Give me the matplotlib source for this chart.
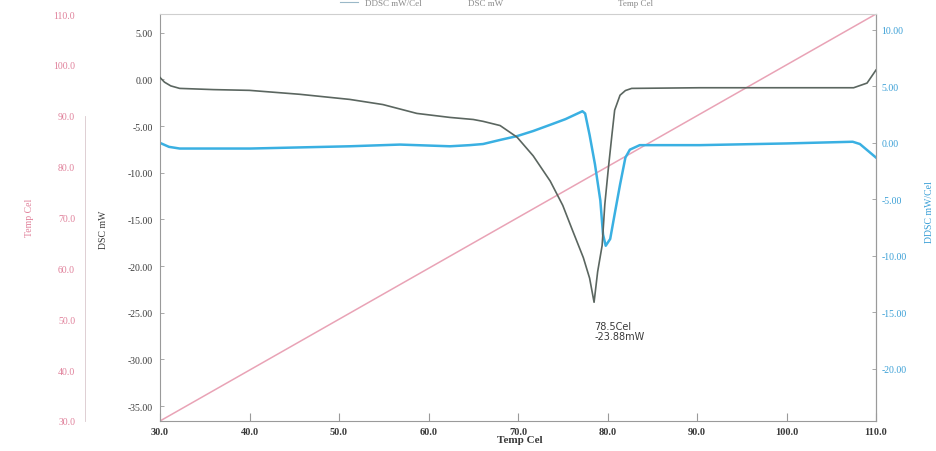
import matplotlib
matplotlib.use("Agg")
import matplotlib.pyplot as plt
from matplotlib.ticker import FixedLocator, FormatStrFormatter

# ---- data ----
dsc_temp = [30.0, 30.5, 31.2, 32.2, 36.0, 40.0, 45.6, 51.2, 54.9, 58.7, 62.4, 65.0,
            66.1, 68.0, 69.9, 71.7, 73.6, 75.0, 76.1, 77.3, 78.0, 78.5, 78.9,
            79.4, 79.7, 80.1, 80.5, 80.8, 81.4, 82.0, 82.7, 90.3, 100.0, 107.5,
            109.0, 110.0]
dsc_mw = [0.2, -0.3, -0.7, -0.97, -1.1, -1.18, -1.6, -2.15, -2.7, -3.65, -4.08, -4.3,
          -4.5, -4.95, -6.2, -8.2, -10.9, -13.5, -16.2, -19.1, -21.3, -23.88, -20.6,
          -17.8, -13.4, -9.5, -5.9, -3.3, -1.7, -1.2, -0.97, -0.9, -0.9, -0.9,
          -0.4, 1.0]

ddsc_temp = [30.0, 31.0, 32.2, 40.1, 51.2, 56.8, 62.4, 64.6, 66.1, 68.0, 69.9, 71.7,
             73.6, 75.3, 77.2, 77.5, 78.0, 78.6, 79.2, 79.5, 79.8, 80.3, 80.8,
             81.4, 82.0, 82.5, 83.6, 90.3, 100.0, 107.4, 108.2, 110.0]
ddsc_val = [0.0, -0.35, -0.5, -0.5, -0.3, -0.15, -0.3, -0.2, -0.1, 0.26, 0.6, 1.05,
            1.6, 2.1, 2.8, 2.6, 0.7, -1.9, -5.1, -8.1, -9.1, -8.5, -6.3,
            -3.7, -1.3, -0.6, -0.2, -0.2, -0.05, 0.1, -0.1, -1.3]

temp_x = [30.0, 110.0]
temp_y = [30.0, 110.0]

x_ticks = [30.0, 40.0, 50.0, 60.0, 70.0, 80.0, 90.0, 100.0, 110.0]
dsc_ticks = [5.0, 0.0, -5.0, -10.0, -15.0, -20.0, -25.0, -30.0, -35.0]
ddsc_ticks = [10.0, 5.0, 0.0, -5.0, -10.0, -15.0, -20.0]
temp_ticks = [30.0, 40.0, 50.0, 60.0, 70.0, 80.0, 90.0, 100.0, 110.0]

legend_labels = ["DDSC mW/Cel", "DSC mW", "Temp Cel"]
peak_label = "78.5Cel\n-23.88mW"

# ---- styling ----
C_DSC = "#5b6660"
C_DDSC = "#3ab0e2"
C_DDSC_TXT = "#3a9fd6"
C_TEMP = "#e9a3b6"
C_TEMP_TXT = "#e0809a"
C_SPINE = "#9a9a9a"
C_TXT = "#3a3a3a"

plt.rcParams['font.family'] = ['Liberation Serif', 'DejaVu Serif']

fig = plt.figure(figsize=(9.36, 4.52), dpi=100)
ax = fig.add_axes([160/936, 1-422/452, (876-160)/936, (422-15)/452])
ax2 = ax.twinx()
ax3 = ax.twinx()

# main DSC axis
ax.plot(dsc_temp, dsc_mw, color=C_DSC, lw=1.2, zorder=3)
ax.set_xlim(30, 110)
ax.set_ylim(-36.6, 7.0)
ax.xaxis.set_major_locator(FixedLocator(x_ticks))
ax.xaxis.set_major_formatter(FormatStrFormatter('%.1f'))
ax.yaxis.set_major_locator(FixedLocator(dsc_ticks))
ax.yaxis.set_major_formatter(FormatStrFormatter('%.2f'))
ax.tick_params(axis='x', direction='in', length=6, width=0.8, color=C_SPINE,
               labelsize=7.5, labelcolor=C_TXT, pad=4)
ax.tick_params(axis='y', direction='in', length=3, width=0.6, color=C_SPINE,
               labelsize=7, labelcolor=C_TXT, pad=5)
for lab in ax.get_xticklabels():
    lab.set_fontweight('bold')
for s in ['left', 'bottom', 'top', 'right']:
    ax.spines[s].set_color(C_SPINE)
    ax.spines[s].set_linewidth(0.8)
ax.spines['top'].set_color('#cfcfcf')

# DDSC right axis
ax2.plot(ddsc_temp, ddsc_val, color=C_DDSC, lw=1.8, zorder=2)
ax2.set_ylim(-24.6, 11.4)
ax2.yaxis.set_major_locator(FixedLocator(ddsc_ticks))
ax2.yaxis.set_major_formatter(FormatStrFormatter('%.2f'))
ax2.tick_params(axis='y', direction='in', length=3, width=0.6, color=C_SPINE,
                labelsize=7, labelcolor=C_DDSC_TXT, pad=4)
for s in ['left', 'bottom', 'top']:
    ax2.spines[s].set_visible(False)
ax2.spines['right'].set_color(C_SPINE)

# Temperature axis (far left)
ax3.plot(temp_x, temp_y, color=C_TEMP, lw=1.1, zorder=1)
ax3.set_ylim(30, 110)
ax3.spines['left'].set_position(('axes', -0.105))
ax3.spines['left'].set_visible(True)
ax3.spines['left'].set_color('#d9c8cc')
ax3.spines['left'].set_linewidth(0.6)
ax3.spines['left'].set_bounds(30, 90)
for s in ['right', 'bottom', 'top']:
    ax3.spines[s].set_visible(False)
ax3.yaxis.set_ticks_position('left')
ax3.yaxis.set_major_locator(FixedLocator(temp_ticks))
ax3.yaxis.set_major_formatter(FormatStrFormatter('%.1f'))
ax3.tick_params(axis='y', direction='in', length=0, labelsize=7,
                labelcolor=C_TEMP_TXT, pad=7)

ax.set_zorder(3)
ax.patch.set_visible(False)
ax2.set_zorder(2)

# axis labels
fig.text(520/936, 1-441/452, "Temp Cel", ha='center', va='center',
         fontsize=8, color=C_TXT, fontweight='bold')
fig.text(103/936, 1-230/452, "DSC mW", ha='center', va='center',
         fontsize=7, color=C_TXT, rotation=90)
fig.text(30/936, 1-218/452, "Temp Cel", ha='center', va='center',
         fontsize=7, color=C_TEMP_TXT, rotation=90)
fig.text(929/936, 1-212/452, "DDSC mW/Cel", ha='center', va='center',
         fontsize=7, color=C_DDSC_TXT, rotation=90)

# peak annotation
ax.text(78.5, -25.9, peak_label, ha='left', va='top', fontsize=7,
        color=C_TXT, linespacing=1.0, fontfamily=['DejaVu Sans'])

# top legend (partly cut off in the reference)
fig.lines.append(plt.Line2D([340/936, 358/936], [1-3/452, 1-3/452],
                            transform=fig.transFigure, color='#9ab8c8', lw=0.8))
for xpix, lab in zip([365, 468, 618], legend_labels):
    fig.text(xpix/936, 1-4/452, lab, ha='left', va='center', fontsize=6.5,
             color='#8a8a8a')

fig.savefig("out.png", dpi=100)
